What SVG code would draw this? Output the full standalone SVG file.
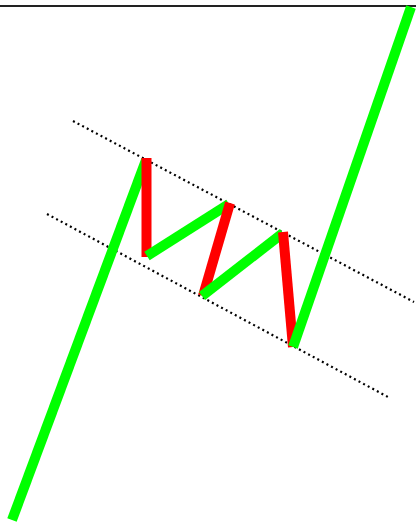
<svg xmlns="http://www.w3.org/2000/svg" width="416" height="523" viewBox="0 0 416 523">
<style>
.g{stroke:#00ff00;stroke-width:10;fill:none;stroke-linecap:butt}
.r{stroke:#ff0000;stroke-width:10;fill:none;stroke-linecap:butt}
.d{stroke:#000;stroke-width:2.2;stroke-dasharray:2 3.2;fill:none}
</style>
<rect width="416" height="523" fill="#fff"/>
<line x1="0" y1="6" x2="416" y2="6" stroke="#222" stroke-width="2"/>
<g id="channel">
<line class="d" x1="73" y1="121" x2="414" y2="302"/>
<line class="d" x1="47" y1="214" x2="388" y2="397"/>
</g>
<g id="waves">
<line class="g" x1="12" y1="520" x2="146" y2="160"/>
<line class="r" x1="146.5" y1="158" x2="146.5" y2="257"/>
<line class="g" x1="147" y1="256" x2="229" y2="204"/>
<line class="r" x1="230" y1="203" x2="203" y2="296"/>
<line class="g" x1="202" y1="296" x2="283" y2="233"/>
<line class="r" x1="283" y1="232" x2="293" y2="347"/>
<line class="g" x1="293" y1="347" x2="411" y2="7"/>
</g>
</svg>
